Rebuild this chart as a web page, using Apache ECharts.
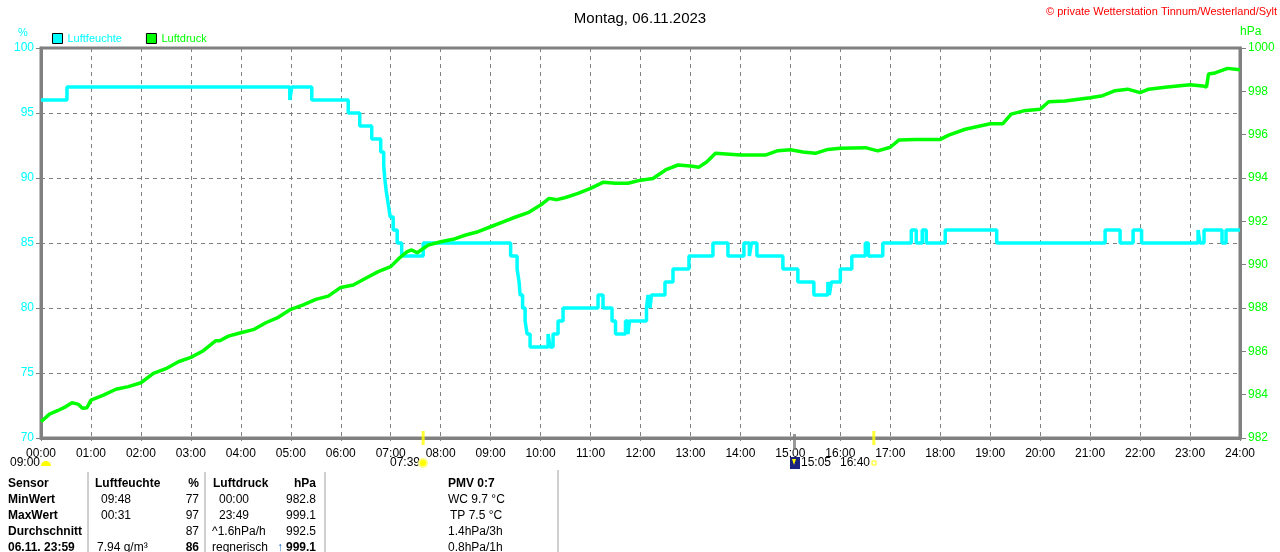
<!DOCTYPE html>
<html>
<head>
<meta charset="utf-8">
<script src="https://cdn.jsdelivr.net/npm/echarts@6/dist/echarts.min.js"></script>
<style>
    html, body { margin: 0; padding: 0; background: #fff; }
    #main { width: 1280px; height: 552px; }
</style>
</head>
<body>
<div id="main"></div>
<script>
// Tageswerte 06.11.2023 (Zeit in Stunden)
// Luftfeuchte: Stufen (Zeitpunkt der Aenderung, neuer Wert)
var humTimes = [0, 0.52, 4.98, 5.02, 5.42, 6.15, 6.38, 6.62, 6.80, 6.86, 6.88, 6.91, 6.95, 6.99, 7.05, 7.13, 7.22, 7.65,
    9.40, 9.53, 9.57, 9.59, 9.64, 9.69, 9.73, 9.79, 10.15, 10.19, 10.25, 10.35, 10.45, 11.15, 11.25, 11.43, 11.50,
    11.70, 11.75, 11.78, 12.12, 12.15, 12.19, 12.22, 12.49, 12.65, 12.97, 13.45, 13.75, 14.07, 14.18, 14.22, 14.33,
    14.85, 15.15, 15.47, 15.75, 15.78, 15.82, 16.00, 16.23, 16.50, 16.56, 16.85, 17.42, 17.52, 17.64, 17.72, 18.10,
    19.13, 21.30, 21.60, 21.86, 22.03, 23.16, 23.20, 23.28, 23.64, 23.72, 24.00];
var humValues = [96, 97, 96, 97, 96, 95, 94, 93, 92, 91, 90, 89, 88, 87, 86, 85, 84, 85,
    84, 83, 82, 81, 80, 79, 78, 77, 78, 77, 78, 79, 80, 81, 80, 79, 78,
    79, 78, 79, 80, 81, 80, 81, 82, 83, 84, 85, 84, 85, 84, 85, 84,
    83, 82, 81, 82, 81, 82, 83, 84, 85, 84, 85, 86, 85, 86, 85, 86,
    85, 86, 85, 86, 85, 86, 85, 86, 85, 86, 86];

// Luftdruck hPa
var presTimes = [0, 0.17, 0.33, 0.5, 0.62, 0.75, 0.83, 0.92, 1.0, 1.25, 1.5, 1.75, 2.0, 2.25, 2.5, 2.75, 3.0, 3.25,
    3.5, 3.58, 3.75, 4.0, 4.25, 4.5, 4.75, 5.0, 5.25, 5.5, 5.75, 6.0, 6.25, 6.5, 6.75, 7.0, 7.17, 7.33, 7.42, 7.53,
    7.75, 8.0, 8.25, 8.5, 8.75, 9.0, 9.25, 9.5, 9.75, 10.0, 10.17, 10.33, 10.5, 10.75, 11.0, 11.25, 11.5, 11.75,
    12.0, 12.25, 12.5, 12.75, 13.0, 13.17, 13.33, 13.5, 14.0, 14.5, 14.75, 15.0, 15.25, 15.5, 15.75, 16.0, 16.5,
    16.75, 17.0, 17.17, 17.5, 18.0, 18.17, 18.5, 19.0, 19.25, 19.42, 19.67, 20.0, 20.17, 20.5, 21.0, 21.25, 21.5,
    21.75, 22.0, 22.17, 22.5, 23.0, 23.25, 23.33, 23.37, 23.5, 23.75, 24.0];
var presValues = [982.75, 983.1, 983.26, 983.45, 983.63, 983.55, 983.37, 983.4, 983.75, 983.98, 984.25, 984.37, 984.55, 984.98, 985.2, 985.52, 985.72, 986.03,
    986.49, 986.49, 986.7, 986.86, 987.0, 987.32, 987.57, 987.94, 988.14, 988.4, 988.55, 988.95, 989.06, 989.37, 989.68, 989.91, 990.3, 990.6, 990.68, 990.55,
    990.9, 991.06, 991.17, 991.37, 991.52, 991.75, 991.98, 992.2, 992.4, 992.75, 993.06, 993.0, 993.1, 993.29, 993.52, 993.8, 993.76, 993.76,
    993.9, 993.98, 994.37, 994.6, 994.55, 994.5, 994.75, 995.14, 995.06, 995.06, 995.26, 995.3, 995.2, 995.14, 995.32, 995.37, 995.4,
    995.25, 995.42, 995.75, 995.78, 995.78, 995.98, 996.25, 996.5, 996.5, 996.95, 997.1, 997.17, 997.52, 997.55, 997.7, 997.8, 998.03,
    998.1, 997.94, 998.1, 998.19, 998.3, 998.25, 998.2, 998.8, 998.85, 999.06, 999.0];

// Achsenbeschriftung
var hourLabels = ['00:00', '01:00', '02:00', '03:00', '04:00', '05:00', '06:00', '07:00', '08:00', '09:00', '10:00', '11:00', '12:00',
    '13:00', '14:00', '15:00', '16:00', '17:00', '18:00', '19:00', '20:00', '21:00', '22:00', '23:00', '24:00'];
// Sonnenaufgang / -untergang und Ereignis 15:05
var sunMarks = [7.65, 16.67];
var eventMarks = [15.083];

var humData = humTimes.map(function (t, i) { return [t, humValues[i]]; });
var presData = presTimes.map(function (t, i) { return [t, presValues[i]]; });

var myChart = echarts.init(document.getElementById('main'));

var font = '"Liberation Sans", Arial, sans-serif';
var gray = '#808080';

// Text unter dem Diagramm (Tabelle)
function txt(x, y, s, opt) {
    opt = opt || {};
    return {
        type: 'text', left: x, top: y, z: 10,
        style: {
            text: s, x: 0, y: 0,
            fill: opt.color || '#000',
            font: (opt.bold ? 'bold ' : '') + (opt.size || 12) + 'px ' + font,
            align: opt.align || 'left'
        }
    };
}
function rtxt(xRight, y, s, opt) {
    opt = opt || {};
    return {
        type: 'text', right: 1280 - xRight, top: y, z: 10,
        style: {
            text: s, fill: opt.color || '#000',
            font: (opt.bold ? 'bold ' : '') + (opt.size || 12) + 'px ' + font
        }
    };
}
function vline(x, y1, y2) {
    return { type: 'line', z: 10, shape: { x1: x, y1: y1, x2: x, y2: y2 }, style: { stroke: '#a0a0a0', lineWidth: 1 } };
}

var rows = [485, 501, 517, 533, 549];
var graphics = [
    txt(1046, 6, '\u00a9 private Wetterstation Tinnum/Westerland/Sylt', { color: '#ff0000', size: 11 }),
    txt(18, 27, '%', { color: '#00ffff', size: 11 }),
    txt(1240, 26, 'hPa', { color: '#00ff00', size: 12 }),

    // zweite Zeile unter der Achse
    txt(10, 457, '09:00'),
    { type: 'sector', z: 10, shape: { cx: 46, cy: 466, r0: 0, r: 5, startAngle: Math.PI, endAngle: 2 * Math.PI }, style: { fill: '#ffff00' } },
    txt(390, 457, '07:39'),
    { type: 'circle', z: 10, shape: { cx: 423, cy: 463, r: 4 }, style: { fill: '#ffff00', stroke: '#ffff80', lineWidth: 2 } },
    { type: 'rect', z: 10, shape: { x: 790, y: 457, width: 10, height: 12 }, style: { fill: '#1a237e' } },
    { type: 'polygon', z: 11, shape: { points: [[792, 459], [796, 459], [794, 465]] }, style: { fill: '#ffff00' } },
    txt(801, 457, '15:05'),
    txt(840, 457, '16:40'),
    { type: 'rect', z: 10, shape: { x: 872, y: 461, width: 4, height: 4 }, style: { fill: 'none', stroke: '#ffff00', lineWidth: 1 } },

    vline(88, 472, 552), vline(205, 472, 552), vline(325, 472, 552), vline(558, 470, 552),

    txt(8, rows[0] - 7, 'Sensor', { bold: true }),
    txt(8, rows[1] - 7, 'MinWert', { bold: true }),
    txt(8, rows[2] - 7, 'MaxWert', { bold: true }),
    txt(8, rows[3] - 7, 'Durchschnitt', { bold: true }),
    txt(8, rows[4] - 7, '06.11. 23:59', { bold: true }),

    txt(95, rows[0] - 7, 'Luftfeuchte', { bold: true }),
    txt(101, rows[1] - 7, '09:48'),
    txt(101, rows[2] - 7, '00:31'),
    txt(97, rows[4] - 7, '7.94 g/m\u00b3'),
    rtxt(199, rows[0] - 7, '%', { bold: true }),
    rtxt(199, rows[1] - 7, '77'),
    rtxt(199, rows[2] - 7, '97'),
    rtxt(199, rows[3] - 7, '87'),
    rtxt(199, rows[4] - 7, '86', { bold: true }),

    txt(213, rows[0] - 7, 'Luftdruck', { bold: true }),
    txt(219, rows[1] - 7, '00:00'),
    txt(219, rows[2] - 7, '23:49'),
    txt(212, rows[3] - 7, '^1.6hPa/h'),
    txt(212, rows[4] - 7, 'regnerisch'),
    rtxt(316, rows[0] - 7, 'hPa', { bold: true }),
    rtxt(316, rows[1] - 7, '982.8'),
    rtxt(316, rows[2] - 7, '999.1'),
    rtxt(316, rows[3] - 7, '992.5'),
    rtxt(316, rows[4] - 7, '999.1', { bold: true }),
    txt(277, rows[4] - 7, '\u2191', { bold: true, color: '#1565c0' }),

    txt(448, rows[0] - 7, 'PMV 0:7', { bold: true }),
    txt(448, rows[1] - 7, 'WC 9.7 \u00b0C'),
    txt(450, rows[2] - 7, 'TP 7.5 \u00b0C'),
    txt(448, rows[3] - 7, '1.4hPa/3h'),
    txt(448, rows[4] - 7, '0.8hPa/1h')
];

var option = {
    backgroundColor: '#ffffff',
    animation: false,
    title: {
        text: 'Montag, 06.11.2023',
        left: 'center',
        top: 6,
        textStyle: { fontFamily: font, fontSize: 15, fontWeight: 'normal', color: '#000' }
    },
    legend: {
        left: 47,
        top: 28,
        icon: 'rect',
        itemWidth: 10,
        itemHeight: 10,
        itemGap: 24,
        itemStyle: { borderColor: '#000', borderWidth: 1 },
        textStyle: { fontFamily: font, fontSize: 11 },
        data: [
            { name: 'Luftfeuchte', textStyle: { color: '#00ffff' } },
            { name: 'Luftdruck', textStyle: { color: '#00ff00' } }
        ]
    },
    grid: {
        left: 41,
        right: 40,
        top: 48,
        bottom: 114,
        show: true,
        borderColor: gray,
        borderWidth: 3
    },
    xAxis: {
        type: 'value',
        min: 0,
        max: 24,
        interval: 1,
        axisLine: { lineStyle: { color: gray, width: 3 } },
        axisTick: { show: true, length: 3, lineStyle: { color: gray } },
        axisLabel: {
            color: '#000', fontFamily: font, fontSize: 12, margin: 10,
            formatter: function (v) { return hourLabels[Math.round(v)]; }
        },
        splitLine: { show: true, lineStyle: { color: gray, type: [4, 4], width: 1 } }
    },
    yAxis: [{
        type: 'value',
        min: 70,
        max: 100,
        interval: 5,
        axisLine: { show: true, lineStyle: { color: gray, width: 3 } },
        axisTick: { show: true, length: 5, lineStyle: { color: gray } },
        axisLabel: { color: '#00ffff', fontFamily: font, fontSize: 12, margin: 7 },
        splitLine: { show: true, lineStyle: { color: gray, type: [4, 4], width: 1 } }
    }, {
        type: 'value',
        min: 982,
        max: 1000,
        interval: 2,
        position: 'right',
        axisLine: { show: true, lineStyle: { color: gray, width: 3 } },
        axisTick: { show: true, length: 6, lineStyle: { color: gray } },
        axisLabel: {
            color: '#00ff00', fontFamily: font, fontSize: 12, margin: 8,
            formatter: function (v) { return String(v); }
        },
        splitLine: { show: false }
    }],
    series: [{
        name: 'Luftfeuchte',
        type: 'line',
        yAxisIndex: 0,
        step: 'end',
        showSymbol: false,
        data: humData,
        color: '#00ffff',
        lineStyle: { color: '#00ffff', width: 3.5 },
        z: 3
    }, {
        name: 'Luftdruck',
        type: 'line',
        yAxisIndex: 1,
        showSymbol: false,
        data: presData,
        color: '#00ff00',
        lineStyle: { color: '#00ff00', width: 3.5 },
        z: 4
    }, {
        // Sonnenauf-/untergang auf der Zeitachse
        type: 'scatter',
        yAxisIndex: 0,
        symbol: 'rect',
        symbolSize: [3, 14],
        silent: true,
        clip: false,
        itemStyle: { color: '#ffff00' },
        data: sunMarks.map(function (t) { return [t, 70]; }),
        z: 6
    }, {
        type: 'scatter',
        yAxisIndex: 0,
        symbol: 'rect',
        symbolSize: [3, 16],
        symbolOffset: [0, 4],
        silent: true,
        clip: false,
        itemStyle: { color: gray },
        data: eventMarks.map(function (t) { return [t, 70]; }),
        z: 6
    }],
    graphic: graphics
};

myChart.setOption(option);
</script>
</body>
</html>
